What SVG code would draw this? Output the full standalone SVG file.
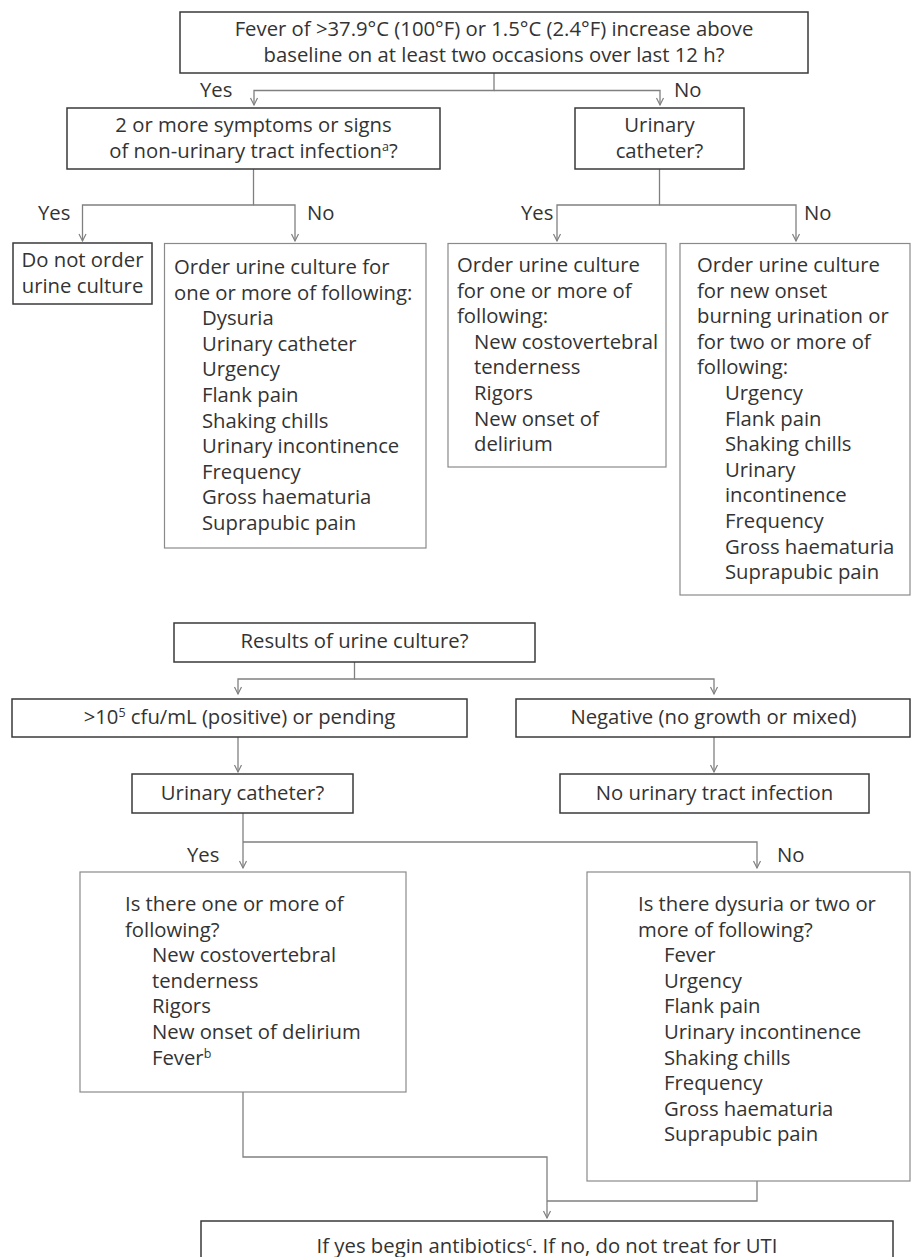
<svg xmlns="http://www.w3.org/2000/svg" width="911" height="1257" viewBox="0 0 911 1257">
<style>
text{font-family:"Open Sans","Noto Sans","Liberation Sans",sans-serif;font-size:20.3px;fill:#333}
.c{text-anchor:middle}
.dk{fill:#fff;stroke:#3a3a3a;stroke-width:1.5}
.lt{fill:#fff;stroke:#8a8a8a;stroke-width:1.2}
.ln{fill:none;stroke:#808080;stroke-width:1.3}
.sup{font-size:12.5px}
</style>
<defs>
<marker id="arr" markerUnits="userSpaceOnUse" markerWidth="10" markerHeight="10" viewBox="-8 -5 10 10" refX="0" refY="0" orient="auto">
<path d="M-7,-3.5 L0,0 L-7,3.5" fill="none" stroke="#808080" stroke-width="1.2"/>
</marker>
</defs>
<rect width="911" height="1257" fill="#fff"/>
<g id="connectors" class="ln" marker-end="url(#arr)">
<path d="M494,73 V90.5 H254 V105"/>
<path d="M494,90.5 H660 V105"/>
<path d="M253.5,169 V205 H82.5 V241"/>
<path d="M253.5,205 H295 V241"/>
<path d="M659.5,169 V205 H557 V241"/>
<path d="M659.5,205 H796 V241"/>
<path d="M354.5,662 V679 H238 V694"/>
<path d="M354.5,679 H714 V694"/>
<path d="M238,737 V772"/>
<path d="M714,737 V772"/>
<path d="M243,813 V868"/>
<path d="M243,842 H757 V868"/>
<path d="M243,1092 V1157 H547 V1218"/>
<path d="M757,1181 V1201 H547" marker-end="none"/>
</g>
<g id="labels">
<text x="200" y="97">Yes</text>
<text x="674" y="97">No</text>
<text x="38" y="220">Yes</text>
<text x="307" y="220">No</text>
<text x="521" y="220">Yes</text>
<text x="804" y="220">No</text>
<text x="187" y="862">Yes</text>
<text x="777" y="862">No</text>
</g>
<g id="n1">
<rect class="dk" x="180" y="12" width="628" height="61"/>
<text class="c" x="494" y="36">Fever of &gt;37.9°C (100°F) or 1.5°C (2.4°F) increase above</text>
<text class="c" x="494" y="62">baseline on at least two occasions over last 12 h?</text>
</g>
<g id="n2">
<rect class="dk" x="67" y="108" width="373" height="61"/>
<text class="c" x="253.5" y="132">2 or more symptoms or signs</text>
<text class="c" x="253.5" y="158">of non-urinary tract infection<tspan class="sup" dy="-7">a</tspan><tspan dy="7">?</tspan></text>
</g>
<g id="n3">
<rect class="dk" x="575" y="108" width="169" height="61"/>
<text class="c" x="659.5" y="132">Urinary</text>
<text class="c" x="659.5" y="158">catheter?</text>
</g>
<g id="n4">
<rect class="dk" x="13" y="243" width="139" height="61"/>
<text class="c" x="82.5" y="267">Do not order</text>
<text class="c" x="82.5" y="293">urine culture</text>
</g>
<g id="n5">
<rect class="lt" x="164.5" y="243.5" width="261.5" height="304.5"/>
<text x="174" y="274">Order urine culture for</text>
<text x="174" y="299.6">one or more of following:</text>
<text x="202" y="325.2">Dysuria</text>
<text x="202" y="350.8">Urinary catheter</text>
<text x="202" y="376.4">Urgency</text>
<text x="202" y="402">Flank pain</text>
<text x="202" y="427.6">Shaking chills</text>
<text x="202" y="453.2">Urinary incontinence</text>
<text x="202" y="478.8">Frequency</text>
<text x="202" y="504.4">Gross haematuria</text>
<text x="202" y="530">Suprapubic pain</text>
</g>
<g id="n6">
<rect class="lt" x="448" y="243.5" width="218" height="223.5"/>
<text x="457" y="272">Order urine culture</text>
<text x="457" y="297.6">for one or more of</text>
<text x="457" y="323.2">following:</text>
<text x="474" y="348.8">New costovertebral</text>
<text x="474" y="374.4">tenderness</text>
<text x="474" y="400">Rigors</text>
<text x="474" y="425.6">New onset of</text>
<text x="474" y="451.2">delirium</text>
</g>
<g id="n7">
<rect class="lt" x="680" y="243.5" width="230" height="351.5"/>
<text x="697" y="272">Order urine culture</text>
<text x="697" y="297.6">for new onset</text>
<text x="697" y="323.2">burning urination or</text>
<text x="697" y="348.8">for two or more of</text>
<text x="697" y="374.4">following:</text>
<text x="725" y="400">Urgency</text>
<text x="725" y="425.6">Flank pain</text>
<text x="725" y="451.2">Shaking chills</text>
<text x="725" y="476.8">Urinary</text>
<text x="725" y="502.4">incontinence</text>
<text x="725" y="528">Frequency</text>
<text x="725" y="553.6">Gross haematuria</text>
<text x="725" y="579.2">Suprapubic pain</text>
</g>
<g id="n8">
<rect class="dk" x="174" y="623" width="361" height="39"/>
<text class="c" x="354.5" y="648">Results of urine culture?</text>
</g>
<g id="n9">
<rect class="dk" x="12" y="699" width="455" height="38"/>
<text class="c" x="239.5" y="724">&gt;10<tspan class="sup" dy="-7">5</tspan><tspan dy="7"> cfu/mL (positive) or pending</tspan></text>
</g>
<g id="n10">
<rect class="dk" x="516" y="699" width="394" height="38"/>
<text class="c" x="713.5" y="724">Negative (no growth or mixed)</text>
</g>
<g id="n11">
<rect class="dk" x="132" y="774" width="221" height="39"/>
<text class="c" x="242.5" y="800">Urinary catheter?</text>
</g>
<g id="n12">
<rect class="dk" x="560" y="774" width="309" height="39"/>
<text class="c" x="714.5" y="800">No urinary tract infection</text>
</g>
<g id="n13">
<rect class="lt" x="80" y="872" width="326" height="220"/>
<text x="125" y="911">Is there one or more of</text>
<text x="125" y="936.6">following?</text>
<text x="152" y="962.2">New costovertebral</text>
<text x="152" y="987.8">tenderness</text>
<text x="152" y="1013.4">Rigors</text>
<text x="152" y="1039">New onset of delirium</text>
<text x="152" y="1064.6">Fever<tspan class="sup" dy="-7">b</tspan></text>
</g>
<g id="n14">
<rect class="lt" x="587" y="872" width="323" height="309"/>
<text x="638" y="911">Is there dysuria or two or</text>
<text x="638" y="936.6">more of following?</text>
<text x="664" y="962.2">Fever</text>
<text x="664" y="987.8">Urgency</text>
<text x="664" y="1013.4">Flank pain</text>
<text x="664" y="1039">Urinary incontinence</text>
<text x="664" y="1064.6">Shaking chills</text>
<text x="664" y="1090.2">Frequency</text>
<text x="664" y="1115.8">Gross haematuria</text>
<text x="664" y="1141.4">Suprapubic pain</text>
</g>
<g id="n15">
<rect class="dk" x="201" y="1221" width="692" height="50"/>
<text class="c" x="547" y="1253">If yes begin antibiotics<tspan class="sup" dy="-7">c</tspan><tspan dy="7">. If no, do not treat for UTI</tspan></text>
</g>
</svg>
